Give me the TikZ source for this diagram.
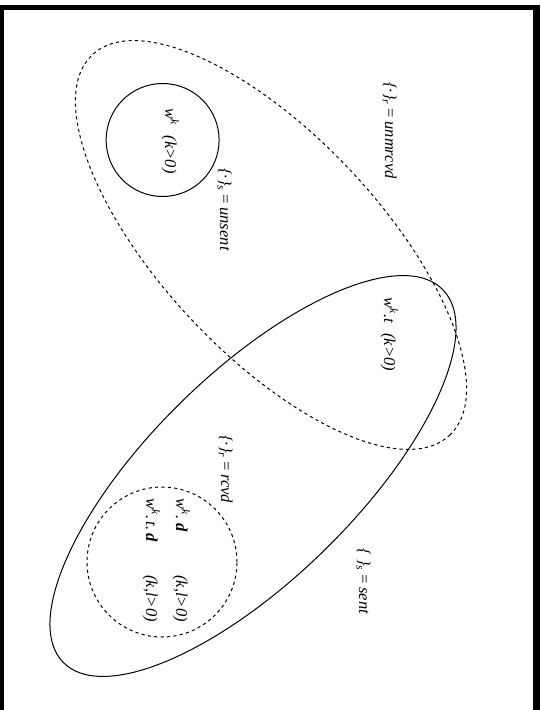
\documentclass[tikz,border=0pt]{standalone}
\usepackage{fontspec}
\setmainfont{Liberation Serif}
\usetikzlibrary{shapes.geometric}
\begin{document}
\begin{tikzpicture}[x=0.75pt,y=-0.75pt,
  lbl/.style={rotate=-90, inner sep=0pt, font=\fontsize{12.4}{14}\selectfont\itshape},
  solidline/.style={draw=black, line width=0.75pt},
  dashline/.style={draw=black, line width=0.75pt, dash pattern=on 2.4pt off 2.4pt},
  ell/.style={ellipse, inner sep=0pt, outer sep=0pt},
  circ/.style={circle, inner sep=0pt, outer sep=0pt}]
\useasboundingbox (0,0) rectangle (541,710);
% frame
\fill[black] (0,5) rectangle (3.5,710);
\fill[black] (0,5) rectangle (540,10);
\fill[black] (533,5) rectangle (540,710);
% shapes
\node[ell, dashline, minimum width=522*0.75pt, minimum height=218*0.75pt, rotate=-46.8] (unrcvd) at (271,245) {};
\node[ell, solidline, minimum width=532*0.75pt, minimum height=206*0.75pt, rotate=44.5] (sent) at (253,476) {};
\node[circ, solidline, minimum size=113*0.75pt] (unsent) at (162.6,140) {};
\node[circ, dashline, minimum size=150*0.75pt] (rcvd) at (162,562) {};
% labels
\node[lbl, anchor=base west] (t1) at (165,108) {w\textsuperscript{k}\hspace{8pt}(k>0)};
\node[lbl, anchor=base west] (t2) at (220,168) {\{·\}\textsubscript{s}\,=\,unsent};
\node[lbl, anchor=base east] (t3) at (385,179) {\{·\}\textsubscript{r}\,=\,unmrcvd};
\node[lbl, anchor=base west] (t4) at (384,297) {w\textsuperscript{k}.t\hspace{8pt}(k>0)};
\node[lbl, anchor=base west] (t5) at (221,435) {\{·\}\textsubscript{r}\,=\,rcvd};
\node[lbl, anchor=base west] (t6a) at (176,498) {w\textsuperscript{k}.\ \textbf{d}};
\node[lbl, anchor=base west] (t6b) at (176,575) {(k,l>0)};
\node[lbl, anchor=base west] (t7a) at (146,498) {w\textsuperscript{k}.\,t.\,\textbf{d}};
\node[lbl, anchor=base west] (t7b) at (146,575) {(k,l>0)};
\node[lbl, anchor=base west] (t8) at (359,548) {\{\ \}\textsubscript{s}\,=\,sent};
\end{tikzpicture}
\end{document}
